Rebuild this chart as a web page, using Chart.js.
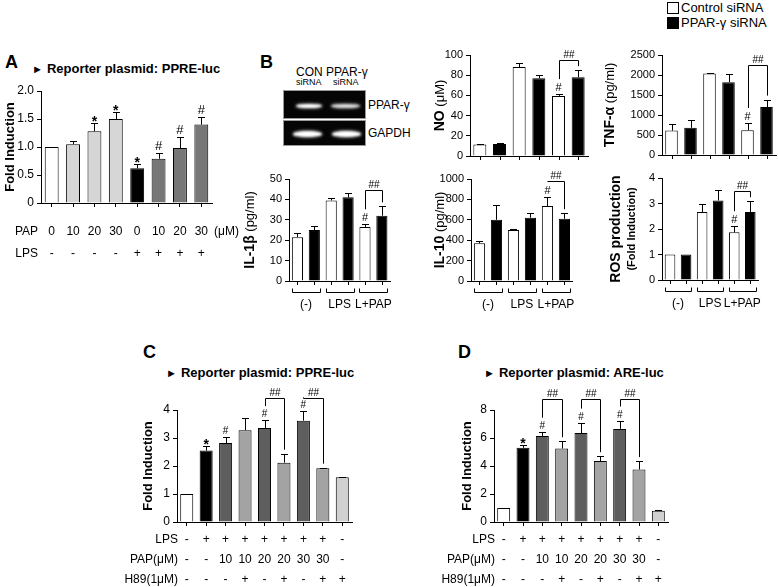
<!DOCTYPE html>
<html>
<head>
<meta charset="utf-8">
<script src="https://cdn.jsdelivr.net/npm/chart.js@4"></script>
<style>
body { margin: 0; width: 778px; height: 587px; background: #fff; position: relative; overflow: hidden; font-family: "Liberation Sans", Arial, sans-serif; color: #000; }
canvas { position: absolute; }
.t { position: absolute; white-space: nowrap; line-height: 1; }
.b { font-weight: bold; }
.tri { font-size: 11px; vertical-align: 0px; margin-right: 4px; }
.gel { position: absolute; background: #050505; border: 1px solid #999; overflow: hidden; }
.band { position: absolute; background: #fff; border-radius: 50%; filter: blur(1px); box-shadow: 0 0 3px #ddd; }
.box { position: absolute; width: 10px; height: 10px; border: 1px solid #000; }
</style>
</head>
<body>

<!-- panel letters and titles -->
<div class="t b" style="left:5px;top:53px;font-size:18px">A</div>
<div class="t b" style="left:32px;top:62px;font-size:13px"><span class="tri">►</span>Reporter plasmid: PPRE-luc</div>
<div class="t b" style="left:260px;top:53px;font-size:18px">B</div>
<div class="t b" style="left:143px;top:343px;font-size:18px">C</div>
<div class="t b" style="left:166px;top:366px;font-size:13px"><span class="tri">►</span>Reporter plasmid: PPRE-luc</div>
<div class="t b" style="left:458px;top:343px;font-size:18px">D</div>
<div class="t b" style="left:484px;top:366px;font-size:13px"><span class="tri">►</span>Reporter plasmid: ARE-luc</div>

<!-- legend -->
<div class="box" style="left:667px;top:2px;background:#fff"></div>
<div class="t" style="left:681px;top:1px;font-size:13px">Control siRNA</div>
<div class="box" style="left:667px;top:17px;background:#000"></div>
<div class="t" style="left:681px;top:16px;font-size:13px">PPAR-γ siRNA</div>

<!-- RT-PCR gel -->
<div class="t" style="left:296px;top:66px;font-size:12px">CON</div>
<div class="t" style="left:296px;top:78px;font-size:9px">siRNA</div>
<div class="t" style="left:326px;top:66px;font-size:12px">PPAR-γ</div>
<div class="t" style="left:333px;top:78px;font-size:9px">siRNA</div>
<div class="gel" style="left:283px;top:90px;width:81px;height:27px">
  <div class="band" style="left:12px;top:13px;width:26px;height:4px"></div>
  <div class="band" style="left:47px;top:13px;width:29px;height:4px;opacity:0.85"></div>
</div>
<div class="gel" style="left:283px;top:120px;width:81px;height:24px">
  <div class="band" style="left:9px;top:10px;width:29px;height:6px"></div>
  <div class="band" style="left:48px;top:10px;width:29px;height:6px"></div>
</div>
<div class="t" style="left:368px;top:99px;font-size:12px">PPAR-γ</div>
<div class="t" style="left:368px;top:127px;font-size:12px">GAPDH</div>

<canvas id="chartA"></canvas>
<canvas id="chartNO"></canvas>
<canvas id="chartTNF"></canvas>
<canvas id="chartIL1"></canvas>
<canvas id="chartIL10"></canvas>
<canvas id="chartROS"></canvas>
<canvas id="chartC"></canvas>
<canvas id="chartD"></canvas>

<script>
// data block
// A: PPRE-luc, PAP dose with and without LPS
const aPap = ['0', '10', '20', '30', '0', '10', '20', '30'];
const aLps = ['-', '-', '-', '-', '+', '+', '+', '+'];
const aFold = [1.0, 1.05, 1.28, 1.5, 0.62, 0.79, 0.98, 1.4];
const aErr = [0, 0.06, 0.14, 0.12, 0.07, 0.1, 0.2, 0.14];
const aSig = ['', '', '*', '*', '*', '#', '#', '#'];

// B: control vs PPAR-γ siRNA
const bGroups = ['(-)', 'LPS', 'L+PAP'];
const bSeries = ['Control siRNA', 'PPAR-γ siRNA'];
const bSig = ['', '', '#'];
const noCtrl = [11.5, 88, 59.5];
const noCtrlErr = [0.3, 4, 1.8];
const noPpar = [12, 77, 78];
const noPparErr = [0.4, 3.5, 7];
const tnfCtrl = [610, 2040, 620];
const tnfCtrlErr = [170, 15, 180];
const tnfPpar = [680, 1820, 1200];
const tnfPparErr = [190, 210, 185];
const il1Ctrl = [21.5, 39.5, 26.5];
const il1CtrlErr = [2, 1.3, 1.3];
const il1Ppar = [25, 41, 32];
const il1PparErr = [2.2, 2, 4.6];
const il10Ctrl = [370, 500, 735];
const il10CtrlErr = [22, 12, 92];
const il10Ppar = [600, 620, 610];
const il10PparErr = [148, 45, 55];
const rosCtrl = [1.0, 2.67, 1.87];
const rosCtrlErr = [0, 0.3, 0.24];
const rosPpar = [1.0, 3.12, 2.67];
const rosPparErr = [0, 0.42, 0.42];

// C and D: LPS / PAP / H89 treatments
const lpsRow = ['-', '+', '+', '+', '+', '+', '+', '+', '-'];
const papRow = ['-', '-', '10', '10', '20', '20', '30', '30', '-'];
const h89Row = ['-', '-', '-', '+', '-', '+', '-', '+', '+'];
const cFold = [1.0, 2.55, 2.82, 3.28, 3.36, 2.12, 3.62, 1.92, 1.6];
const cErr = [0, 0.16, 0.2, 0.45, 0.28, 0.32, 0.33, 0.02, 0.02];
const cSig = ['', '*', '#', '', '#', '', '#', '', ''];
const cPairs = [[4, 5], [6, 7]];
const dFold = [1.0, 5.3, 6.15, 5.25, 6.35, 4.35, 6.65, 3.75, 0.8];
const dErr = [0, 0.22, 0.3, 0.52, 0.75, 0.35, 0.6, 0.6, 0.03];
const dSig = ['', '*', '#', '', '#', '', '#', '', ''];
const dPairs = [[2, 3], [4, 5], [6, 7]];

const FONT = '"Liberation Sans", Arial, sans-serif';
Chart.defaults.font.family = FONT;
Chart.defaults.color = '#000';
Chart.defaults.animation = false;

// error bars, significance marks, brackets, row titles, y titles
const extras = {
	id: 'extras',
	afterDraw(chart, args, o) {
		const ctx = chart.ctx;
		const area = chart.chartArea;
		const ys = chart.scales.y;
		const px = (v) => Math.round(v) + 0.5;
		const seg = (x1, y1, x2, y2) => {
			ctx.beginPath();
			ctx.moveTo(x1, y1);
			ctx.lineTo(x2, y2);
			ctx.stroke();
		};
		ctx.save();
		ctx.strokeStyle = '#000';
		ctx.fillStyle = '#000';
		ctx.lineWidth = 1;
		ctx.textAlign = 'center';
		ctx.textBaseline = 'alphabetic';

		const tops = chart.data.datasets.map((ds, d) =>
			chart.getDatasetMeta(d).data.map((bar, i) => {
				const err = ds.errors ? ds.errors[i] : 0;
				const top = ys.getPixelForValue(ds.data[i] + err);
				const x = px(bar.x);
				if (err > 0) {
					seg(x, bar.y, x, px(top));
					seg(x - 3.5, px(top), x + 3.5, px(top));
				}
				if (o.barTicks) seg(x, area.bottom, x, area.bottom + 4);
				const mark = ds.marks ? ds.marks[i] : '';
				let y = top - 3;
				if (mark === '*') {
					ctx.font = 'bold 14px ' + FONT;
					ctx.fillText('*', bar.x, y + 6);
					y -= 8;
				} else if (mark) {
					ctx.font = o.markSize + 'px ' + FONT;
					ctx.fillText(mark, bar.x, y);
					y -= o.markSize;
				}
				return { x, y, bar };
			})
		);

		(o.brackets || []).forEach((b) => {
			const L = tops[b.a[0]][b.a[1]];
			const R = tops[b.b[0]][b.b[1]];
			const yb = px(ys.getPixelForValue(b.level));
			seg(L.x, yb, R.x, yb);
			seg(L.x, yb, L.x, L.y - 1);
			seg(R.x, yb, R.x, R.y - 1);
			ctx.font = '10px ' + FONT;
			ctx.fillText('##', (L.x + R.x) / 2, yb - 3);
		});

		// group brackets under the x axis (panel B)
		if (o.groups) {
			const yg = px(area.bottom + 11);
			tops[0].forEach((t, i) => {
				const b0 = t.bar;
				const b1 = tops[1][i].bar;
				const x1 = px(b0.x - b0.width / 2);
				const x2 = px(b1.x + b1.width / 2);
				seg(x1, yg, x2, yg);
				seg(x1, yg, x1, yg - 4);
				seg(x2, yg, x2, yg - 4);
			});
		}

		// row titles to the left of multi-row tick labels
		if (o.rows) {
			ctx.font = o.rows.size + 'px ' + FONT;
			ctx.textBaseline = 'middle';
			o.rows.labels.forEach((label, k) => {
				ctx.textAlign = 'right';
				ctx.fillText(label, area.left + o.rows.dx, area.bottom + o.rows.y0 + k * o.rows.step);
			});
			if (o.rows.suffix) {
				ctx.textAlign = 'left';
				ctx.fillText(o.rows.suffix, area.right + 2, area.bottom + o.rows.y0);
			}
		}

		// y-axis title, mixed bold and normal parts
		if (o.ytitle) {
			const cy = (area.top + area.bottom) / 2;
			o.ytitle.forEach((line) => {
				ctx.save();
				ctx.translate(line.x, cy);
				ctx.rotate(-Math.PI / 2);
				ctx.textAlign = 'left';
				ctx.textBaseline = 'middle';
				const fonts = line.parts.map((p) => (p[1] ? 'bold ' : '') + p[2] + 'px ' + FONT);
				const widths = line.parts.map((p, k) => {
					ctx.font = fonts[k];
					return ctx.measureText(p[0]).width;
				});
				let x = -widths.reduce((s, w) => s + w, 0) / 2;
				line.parts.forEach((p, k) => {
					ctx.font = fonts[k];
					ctx.fillText(p[0], x, 0);
					x += widths[k];
				});
				ctx.restore();
			});
		}
		ctx.restore();
	},
};

function xAxis(height, opts) {
	return {
		grid: { drawOnChartArea: false, offset: false, drawTicks: opts.ticks, tickLength: 4, color: '#000' },
		border: { color: '#000' },
		ticks: {
			display: !!opts.labels,
			padding: opts.pad || 0,
			autoSkip: false,
			maxRotation: 0,
			color: '#000',
			font: { size: opts.size || 12, lineHeight: (opts.lineH || 14) + 'px' },
			callback: opts.labels,
		},
		afterFit: (s) => {
			s.height = height;
		},
	};
}

function yAxis(max, step, width, size, fmt) {
	return {
		min: 0,
		max: max,
		grid: { drawOnChartArea: false, tickLength: 4, color: '#000' },
		border: { color: '#000' },
		ticks: { stepSize: step, padding: 3, color: '#000', font: { size: size }, callback: fmt },
		afterFit: (s) => {
			s.width = width;
		},
	};
}

function barChart(id, box, config) {
	const el = document.getElementById(id);
	el.width = box[2];
	el.height = box[3];
	el.style.left = box[0] + 'px';
	el.style.top = box[1] + 'px';
	config.options.responsive = false;
	config.options.devicePixelRatio = 1;
	config.options.plugins.legend = { display: false };
	config.options.plugins.tooltip = { enabled: false };
	config.plugins = [extras];
	return new Chart(el, config);
}

// panel A
const aColors = ['#ffffff', '#d6d6d6', '#d6d6d6', '#d6d6d6', '#000000', '#777777', '#777777', '#777777'];
barChart('chartA', [0, 78, 240, 185], {
	type: 'bar',
	data: {
		labels: aPap,
		datasets: [{
			data: aFold, errors: aErr, marks: aSig,
			backgroundColor: aColors, borderColor: '#000', borderWidth: 1,
			barPercentage: 0.65, categoryPercentage: 1,
		}],
	},
	options: {
		layout: { padding: { top: 13, right: 28, left: 0, bottom: 0 } },
		scales: {
			x: xAxis(60, { ticks: true, pad: 14, lineH: 22, size: 12, labels: (v, i) => [aPap[i], aLps[i]] }),
			y: yAxis(2, 0.5, 41, 12, (v) => (v === 0 ? '0' : v.toFixed(1))),
		},
		plugins: {
			extras: {
				markSize: 13,
				rows: { labels: ['PAP', 'LPS'], dx: -3, y0: 29, step: 22, size: 12, suffix: '(μM)' },
				ytitle: [{ x: 10, parts: [['Fold Induction', true, 13]] }],
			},
		},
	},
});

// panel B helper: two series over three treatment groups
function bChart(id, box, c) {
	return barChart(id, box, {
		type: 'bar',
		data: {
			labels: bGroups,
			datasets: [
				{ label: bSeries[0], data: c.ctrl, errors: c.ctrlErr, marks: bSig, backgroundColor: '#ffffff',
					borderColor: '#000', borderWidth: 1, barPercentage: 0.66, categoryPercentage: 1 },
				{ label: bSeries[1], data: c.ppar, errors: c.pparErr, backgroundColor: '#000000',
					borderColor: '#000', borderWidth: 1, barPercentage: 0.66, categoryPercentage: 1 },
			],
		},
		options: {
			layout: { padding: { top: c.padTop, right: c.padRight, left: 0, bottom: 0 } },
			scales: {
				x: xAxis(c.xh, { ticks: false, pad: 17, lineH: 14, size: 12, labels: c.bottom ? (v, i) => bGroups[i] : null }),
				y: yAxis(c.max, c.step, c.yw, 11),
			},
			plugins: {
				extras: {
					markSize: 11,
					barTicks: true,
					groups: c.bottom,
					brackets: [{ a: [0, 2], b: [1, 2], level: c.level }],
					ytitle: c.title,
				},
			},
		},
	});
}

bChart('chartNO', [430, 30, 162, 136], {
	ctrl: noCtrl, ctrlErr: noCtrlErr, ppar: noPpar, pparErr: noPparErr,
	max: 100, step: 20, level: 95, yw: 40, xh: 10, padTop: 25, padRight: 4, bottom: false,
	title: [{ x: 10, parts: [['NO', true, 14], [' (μM)', false, 13]] }],
});
bChart('chartTNF', [600, 30, 178, 135], {
	ctrl: tnfCtrl, ctrlErr: tnfCtrlErr, ppar: tnfPpar, pparErr: tnfPparErr,
	max: 2500, step: 500, level: 2240, yw: 62, xh: 10, padTop: 25, padRight: 2, bottom: false,
	title: [{ x: 10, parts: [['TNF-α', true, 14], [' (pg/ml)', false, 13]] }],
});
bChart('chartIL1', [240, 165, 170, 150], {
	ctrl: il1Ctrl, ctrlErr: il1CtrlErr, ppar: il1Ppar, pparErr: il1PparErr,
	max: 50, step: 10, level: 44.5, yw: 49, xh: 34, padTop: 14, padRight: 7, bottom: true,
	title: [{ x: 10, parts: [['IL-1β', true, 14], [' (pg/ml)', false, 13]] }],
});
bChart('chartIL10', [430, 165, 162, 150], {
	ctrl: il10Ctrl, ctrlErr: il10CtrlErr, ppar: il10Ppar, pparErr: il10PparErr,
	max: 1000, step: 200, level: 985, yw: 41, xh: 34, padTop: 14, padRight: 4, bottom: true,
	title: [{ x: 10, parts: [['IL-10', true, 14], [' (pg/ml)', false, 13]] }],
});
bChart('chartROS', [600, 165, 178, 150], {
	ctrl: rosCtrl, ctrlErr: rosCtrlErr, ppar: rosPpar, pparErr: rosPparErr,
	max: 4, step: 1, level: 3.5, yw: 62, xh: 35, padTop: 13, padRight: 2, bottom: true,
	title: [
		{ x: 16, parts: [['ROS production', true, 14]] },
		{ x: 32, parts: [['(Fold Induction)', true, 11]] },
	],
});

// panels C and D
const cdColors = ['#ffffff', '#000000', '#5e5e5e', '#a3a3a3', '#5e5e5e', '#a3a3a3', '#5e5e5e', '#a3a3a3', '#d0d0d0'];
function cdChart(id, box, values, errors, marks, pairs, max, step, level, yw, padRight, titleX) {
	return barChart(id, box, {
		type: 'bar',
		data: {
			labels: papRow,
			datasets: [{
				data: values, errors: errors, marks: marks,
				backgroundColor: cdColors, borderColor: '#000', borderWidth: 1,
				barPercentage: 0.67, categoryPercentage: 1,
			}],
		},
		options: {
			layout: { padding: { top: 30, right: padRight, left: 0, bottom: 0 } },
			scales: {
				x: xAxis(65, { ticks: true, pad: 4, lineH: 20, size: 12, labels: (v, i) => [lpsRow[i], papRow[i], h89Row[i]] }),
				y: yAxis(max, step, yw, 12),
			},
			plugins: {
				extras: {
					markSize: 10,
					brackets: pairs.map((p) => ({ a: [0, p[0]], b: [0, p[1]], level: level })),
					rows: { labels: ['LPS', 'PAP(μM)', 'H89(1μM)'], dx: 1, y0: 18, step: 20, size: 12 },
					ytitle: [{ x: titleX, parts: [['Fold Induction', true, 13]] }],
				},
			},
		},
	});
}

cdChart('chartC', [100, 380, 260, 207], cFold, cErr, cSig, cPairs, 4, 1, 4.43, 77, 8, 48);
cdChart('chartD', [420, 380, 260, 207], dFold, dErr, dSig, dPairs, 8, 2, 8.8, 74, 12, 47);
</script>
</body>
</html>
